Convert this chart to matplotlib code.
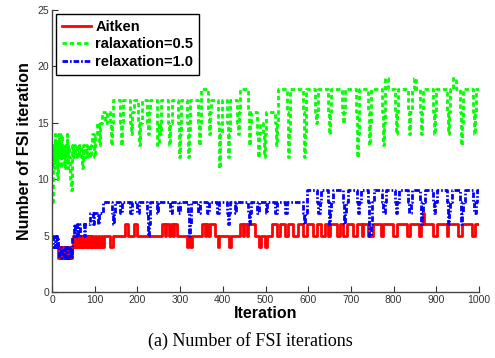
import matplotlib
matplotlib.use("Agg")
import matplotlib.pyplot as plt

plt.rcParams["font.family"] = ["Liberation Sans", "DejaVu Sans"]

# Change points (iteration, number of FSI iterations), drawn as steps
aitken_it = [0, 14, 16, 18, 21, 23, 26, 28, 31, 33, 36, 38, 41, 44, 47,
             49, 51, 53, 55, 57, 59, 61, 63, 65, 67, 69, 71, 73, 76, 78, 81, 83, 86, 88, 91, 94, 97,
             100, 104, 107, 111, 114, 118, 121, 137, 143, 170, 178, 191, 198, 258, 265, 268, 273,
             278, 283, 285, 292, 316, 319, 324, 328, 351, 358, 361, 366, 370, 382, 388, 392, 415,
             419, 440, 448, 450, 457, 460, 475, 484, 489, 498, 503, 515, 528, 533, 546, 553, 565,
             575, 588, 598, 612, 620, 631, 640, 646, 652, 668, 675, 681, 690, 705, 715, 725, 728,
             740, 752, 770, 775, 799, 808, 831, 838, 860, 864, 868, 871, 892, 901, 924, 928, 951,
             960, 983, 990, 1000]
aitken_val = [4, 3, 4, 3, 4, 3, 4, 3, 4, 3, 4, 3, 4, 3, 4,
              5, 4, 5, 4, 5, 4, 5, 4, 5, 4, 5, 4, 5, 4, 5, 4, 5, 4, 5, 4, 5, 4,
              5, 4, 5, 4, 5, 4, 5, 4, 5, 6, 5, 6, 5, 6, 5, 6, 5,
              6, 5, 6, 5, 4, 5, 4, 5, 6, 5, 6, 5, 6, 5, 4, 5, 4,
              5, 6, 5, 6, 5, 6, 5, 4, 5, 4, 5, 6, 5, 6, 5, 6, 5,
              6, 5, 6, 5, 6, 5, 6, 5, 6, 5, 6, 5, 6, 5, 6, 5, 6,
              5, 6, 5, 6, 5, 6, 5, 6, 5, 6, 7, 6, 5, 6, 5, 6, 5,
              6, 5, 6, 6]

relax05_it = [0, 2, 4, 6, 8, 10, 12, 14, 16, 18, 20, 22, 24, 26, 28, 30, 32, 34, 36, 38, 40, 42,
              44, 46, 49, 52, 55, 58, 61, 64, 67, 70, 73, 76, 79, 82, 85, 88, 91, 94, 98, 101,
              106, 110, 113, 118, 124, 128,
              136, 138, 141, 144, 159, 161, 164, 167, 183, 185, 188, 191, 202, 204, 207, 210,
              222, 224, 227, 230, 245, 247, 250, 253, 256, 272, 274, 277, 280, 295, 297, 300, 303,
              316, 318, 321, 324, 342, 344, 347, 350, 365, 367, 370, 373, 389, 391, 394, 397,
              410, 412, 415, 418, 433, 435, 438, 441, 459, 461, 464, 467, 480, 482, 485, 488,
              494, 496, 499, 502, 522, 524, 527, 530, 550, 552, 555, 558, 588, 590, 593, 596,
              616, 618, 621, 624, 646, 648, 651, 654, 679, 681, 684, 687, 712, 714, 717, 720,
              740, 742, 745, 748, 773, 775, 778, 781, 786, 803, 805, 808, 811,
              834, 836, 839, 842, 848, 853, 862, 864, 867, 870, 892, 894, 897, 900,
              925, 927, 930, 933, 940, 946, 955, 957, 960, 963, 986, 988, 991, 994, 1000]
relax05_val = [8, 13, 11, 14, 12, 13, 10, 14, 12, 13, 11, 14, 12, 13, 11, 13, 12, 14, 11, 13, 12, 10,
               9, 13, 12, 13, 12, 13, 12, 13, 12, 11, 13, 12, 13, 12, 13, 12, 13, 14, 12, 14,
               15, 13, 15, 16, 15, 16,
               15, 13, 15, 17, 15, 13, 15, 17, 15, 14, 16, 17, 15, 13, 15, 17,
               15, 14, 16, 17, 15, 13, 15, 14, 17, 15, 13, 15, 17, 15, 12, 14, 17,
               15, 12, 14, 17, 15, 13, 15, 18, 16, 14, 16, 17, 15, 11, 14, 17,
               15, 12, 14, 17, 15, 14, 16, 18, 16, 13, 15, 16, 14, 12, 14, 15,
               14, 12, 14, 16, 15, 13, 15, 18, 16, 12, 14, 18, 16, 12, 14, 18,
               16, 15, 16, 18, 16, 14, 16, 18, 16, 15, 16, 18, 16, 12, 14, 18,
               16, 13, 15, 18, 16, 13, 15, 19, 18, 16, 14, 16, 18,
               16, 14, 16, 18, 19, 18, 16, 14, 16, 18, 16, 14, 16, 18,
               16, 14, 16, 18, 19, 18, 16, 13, 15, 18, 16, 14, 16, 18, 18]

relax10_it = [0, 3, 6, 9, 12, 14, 17, 20, 23, 27, 30, 34, 37, 41, 44, 47, 51, 54, 58, 62, 66, 75,
              78, 89, 95, 98, 108, 111, 120,
              140, 142, 145, 147, 160, 164, 183, 187, 200, 204, 222, 224, 227, 230, 245, 249,
              276, 280, 295, 299, 318, 320, 323, 326, 342, 346, 363, 367, 386, 390,
              410, 412, 415, 417, 428, 432, 459, 461, 464, 466, 480, 484, 500, 504, 522, 526,
              546, 550, 588, 590, 593, 597, 621, 623, 627, 631, 646, 648, 651, 654, 658,
              681, 683, 686, 689, 693, 714, 716, 720, 724, 740, 742, 746, 749, 753,
              773, 775, 779, 783, 803, 805, 809, 813, 834, 836, 840, 844, 862, 864, 867, 870, 874,
              892, 894, 898, 902, 925, 927, 930, 933, 937, 955, 957, 960, 963, 967,
              986, 988, 992, 996, 1000]
relax10_val = [5, 4, 5, 4, 5, 4, 3, 4, 3, 4, 3, 4, 3, 4, 3, 5, 6, 5, 6, 5, 6, 5,
               6, 7, 6, 7, 6, 7, 8,
               7, 6, 7, 8, 7, 8, 7, 8, 7, 8, 7, 5, 6, 8, 7, 8,
               7, 8, 7, 8, 7, 5, 6, 8, 7, 8, 7, 8, 7, 8,
               7, 6, 7, 8, 7, 8, 7, 6, 7, 8, 7, 8, 7, 8, 7, 8,
               7, 8, 7, 6, 7, 9, 8, 7, 8, 9, 8, 6, 7, 8, 9,
               8, 6, 7, 8, 9, 8, 7, 8, 9, 8, 5, 6, 8, 9,
               8, 7, 8, 9, 8, 7, 8, 9, 8, 7, 8, 9, 8, 6, 7, 8, 9,
               8, 7, 8, 9, 8, 6, 7, 8, 9, 8, 6, 7, 8, 9,
               8, 7, 8, 9, 9]

fig = plt.figure(figsize=(4.95, 3.58), dpi=100)
ax = fig.add_axes([52 / 495, 1 - 292 / 358, 427 / 495, 282 / 358])

ax.plot(aitken_it, aitken_val, drawstyle="steps-post", color="#ff0000", lw=2.0,
        label="Aitken")
ax.plot(relax05_it, relax05_val, drawstyle="steps-post", color="#00ff00", lw=2.0,
        dashes=(1.6, 1.0), label="ralaxation=0.5")
ax.plot(relax10_it, relax10_val, drawstyle="steps-post", color="#0000ff", lw=2.0,
        dashes=(2.0, 0.7, 0.6, 0.7), label="relaxation=1.0")

ax.set_xlim(0, 1000)
ax.set_ylim(0, 25)
ax.set_xticks(range(0, 1001, 100))
ax.set_yticks(range(0, 26, 5))
ax.tick_params(direction="in", length=4, width=0.8, labelsize=7.5,
               colors="#333333", pad=2)
for side in ("top", "right"):
    ax.spines[side].set_visible(False)
for side in ("left", "bottom"):
    ax.spines[side].set_color("#444444")
    ax.spines[side].set_linewidth(1.0)

ax.set_xlabel("Iteration", fontsize=11.5, fontweight="bold", labelpad=1)
ax.set_ylabel("Number of FSI iteration", fontsize=11.5, fontweight="bold", labelpad=4)

leg = ax.legend(loc="upper left", bbox_to_anchor=(0.009, 0.986), borderaxespad=0,
                fancybox=False, framealpha=1, edgecolor="black",
                prop={"weight": "bold", "size": 10.5},
                handlelength=2.0, handletextpad=0.3, labelspacing=0.25,
                borderpad=0.4)
leg.get_frame().set_linewidth(1.0)

fig.text(0.505, 0.035, "(a) Number of FSI iterations", ha="center", va="baseline",
         fontsize=13, family=["Liberation Serif", "DejaVu Serif"])

fig.savefig("out.png", dpi=100)
